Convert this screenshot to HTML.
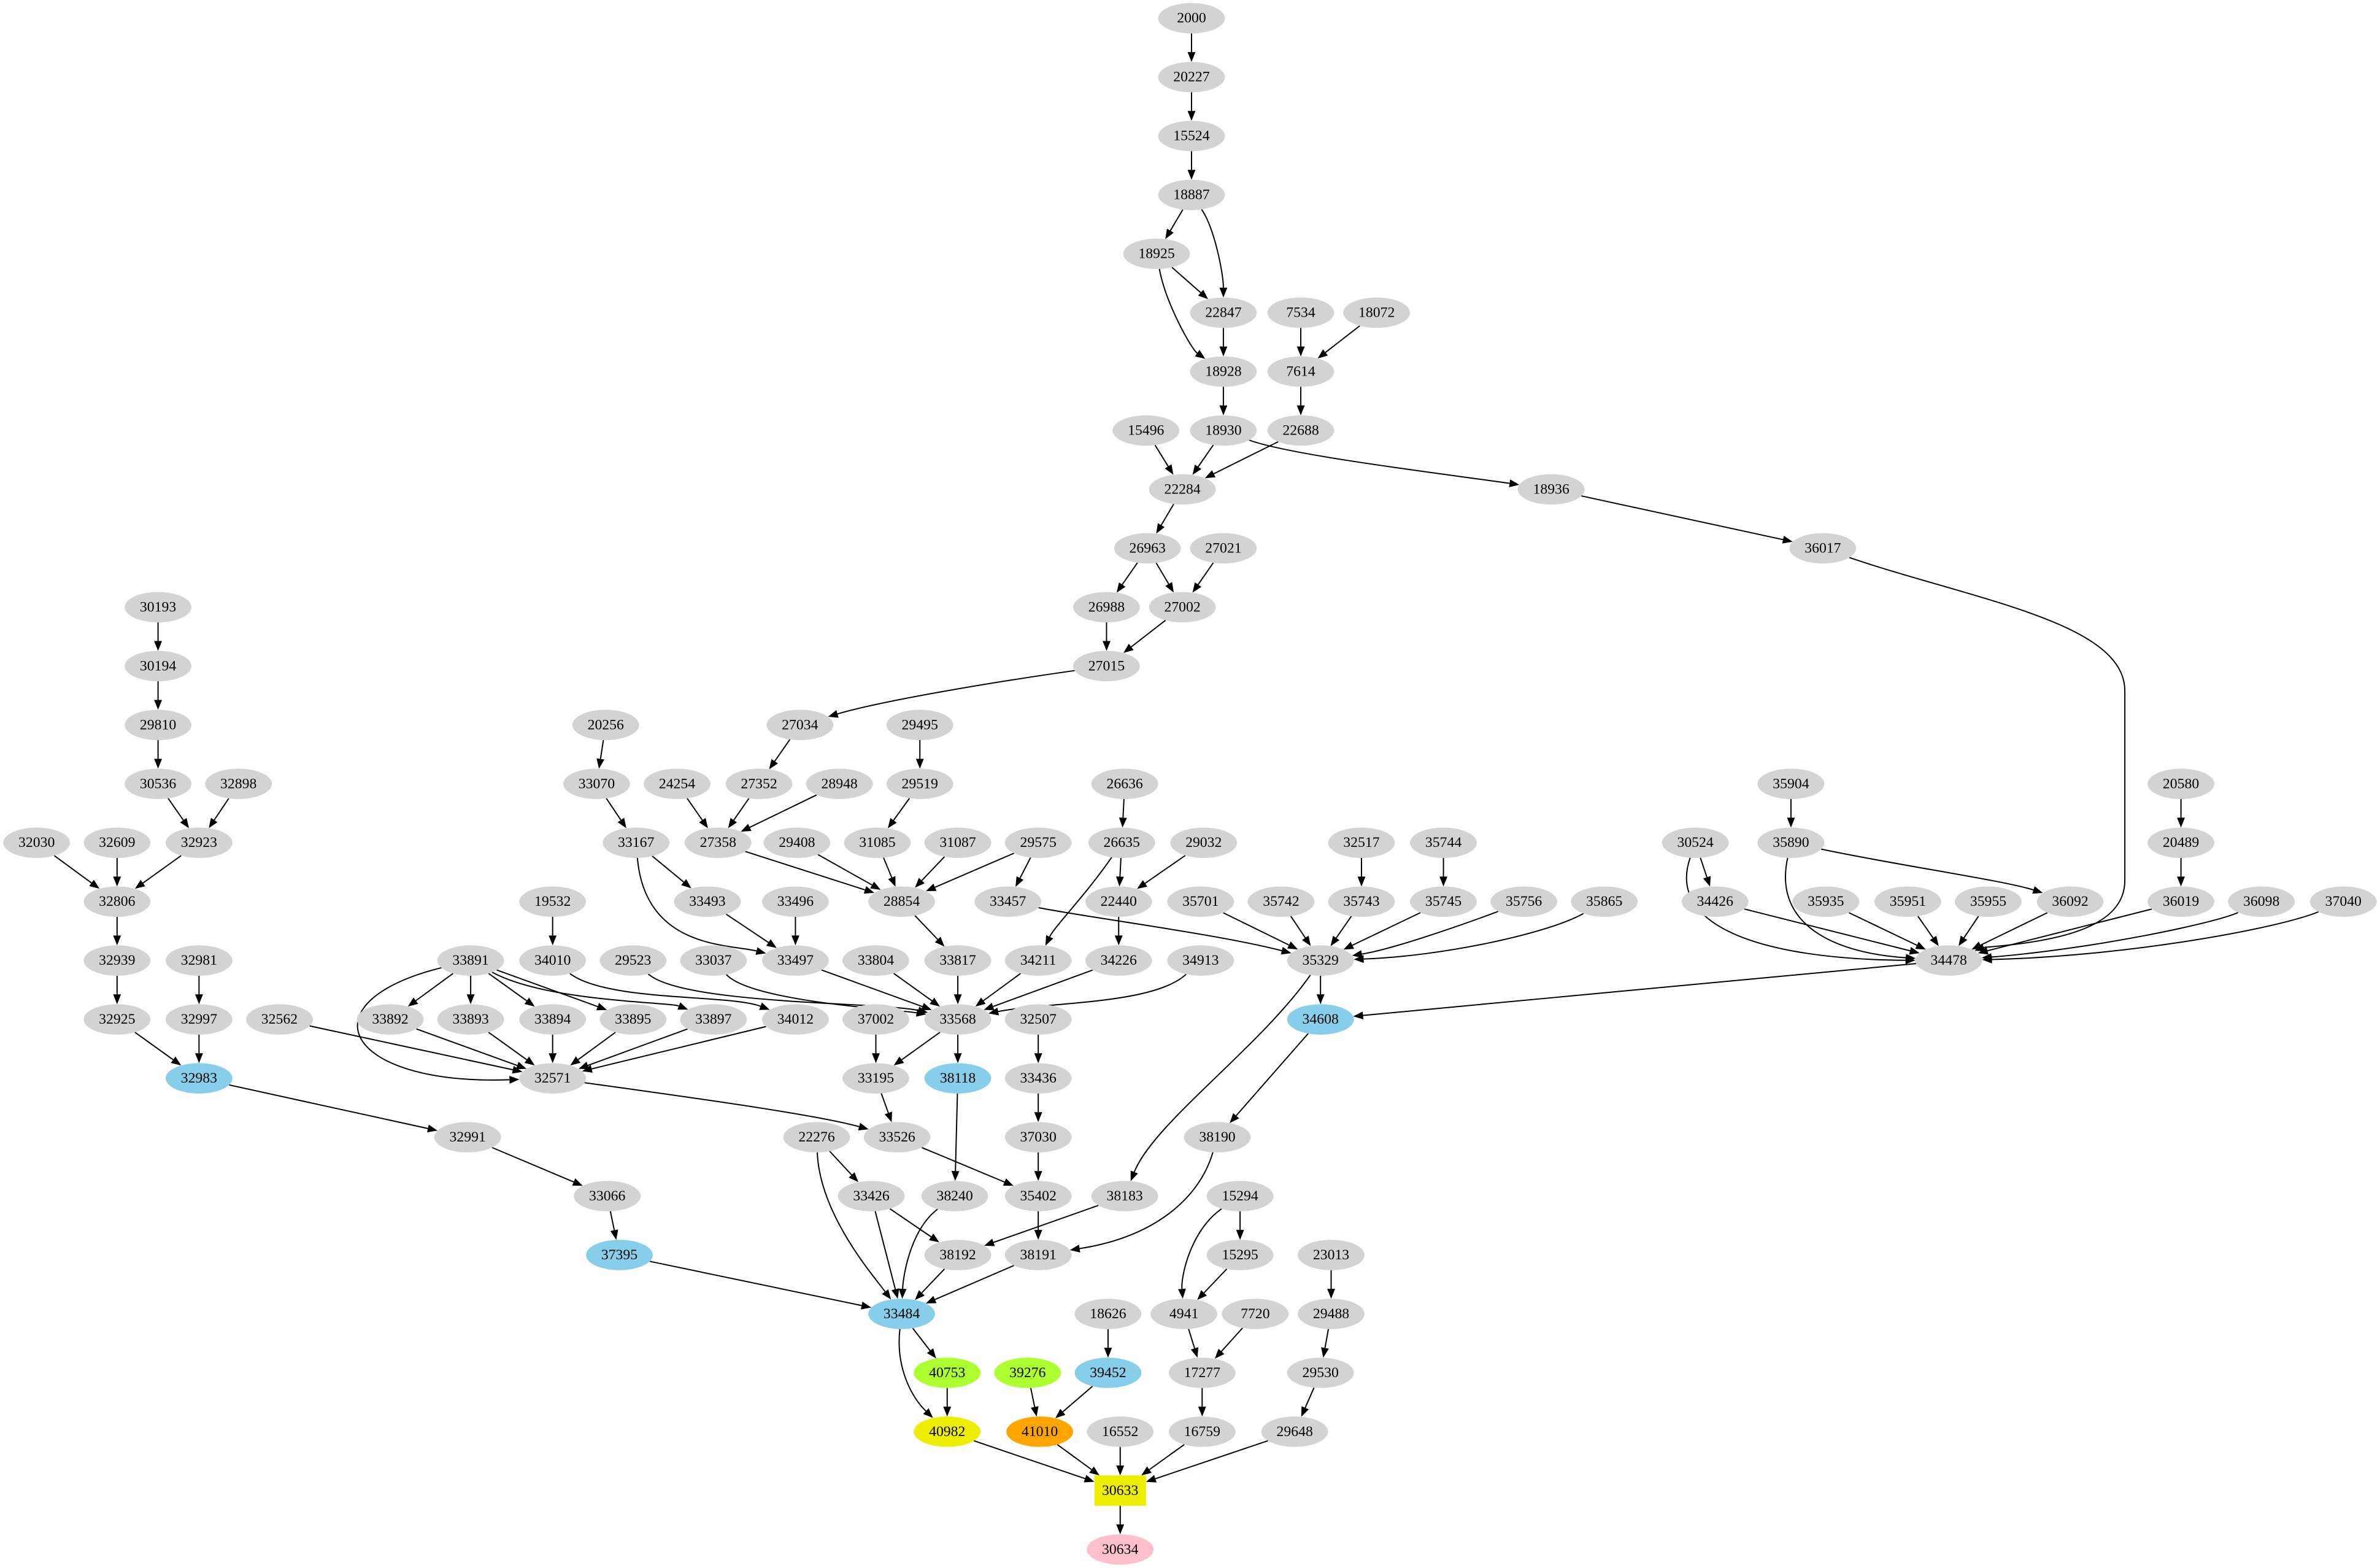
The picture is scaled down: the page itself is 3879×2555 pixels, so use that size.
<!DOCTYPE html>
<html><head><meta charset="utf-8"><style>
html,body{margin:0;padding:0;background:#fff;width:3879px;height:2555px;overflow:hidden}
svg{display:block}
text{font-family:"Liberation Serif",serif;font-size:9.6px;text-anchor:middle;dominant-baseline:central;fill:#000}
</style></head><body>
<svg id="g" width="3879" height="2555" viewBox="0 0 1568 1033" xmlns="http://www.w3.org/2000/svg"></svg>
<script>
var R=[12,50.8,89.6,128.4,167.2,206,244.8,283.6,322.4,361.2,400,438.8,477.6,516.4,555.2,594,632.8,671.6,710.4,749.2,788,826.8,865.6,904.4,943.2,982,1020.8];
var N={};
function n(id,x,r,c,sh){N[id]={x:x,y:R[r],c:c||'#d3d3d3',sh:sh||'e'};}
n('2000',785,0);n('20227',785,1);n('15524',785,2);n('18887',785,3);n('18925',762,4);
n('22847',806,5);n('7534',857,5);n('18072',907,5);
n('18928',806,6);n('7614',857,6);
n('15496',755,7);n('18930',806,7);n('22688',857,7);
n('22284',779,8);n('18936',1022,8);
n('26963',756,9);n('27021',806,9);n('36017',1201,9);
n('30193',104,10);n('26988',729,10);n('27002',779,10);
n('30194',104,11);n('27015',729,11);
n('29810',104,12);n('20256',399,12);n('27034',527,12);n('29495',606,12);
n('30536',104,13);n('32898',157,13);n('33070',393,13);n('24254',446,13);n('27352',500,13);n('28948',553,13);n('29519',606,13);n('26636',741,13);n('35904',1180,13);n('20580',1437,13);
n('32030',24,14);n('32609',77,14);n('32923',131,14);n('33167',419,14);n('27358',473,14);n('29408',525,14);n('31085',578,14);n('31087',631,14);n('29575',684,14);n('26635',739,14);n('29032',793,14);n('32517',897,14);n('35744',951,14);n('30524',1117,14);n('35890',1180,14);n('20489',1437,14);
n('32806',77,15);n('19532',364,15);n('33493',466,15);n('33496',524,15);n('28854',594,15);n('33457',664,15);n('22440',737,15);n('35701',791,15);n('35742',844,15);n('35743',897,15);n('35745',951,15);n('35756',1004,15);n('35865',1057,15);n('34426',1130,15);n('35935',1203,15);n('35951',1257,15);n('35955',1310,15);n('36092',1364,15);n('36019',1437,15);n('36098',1490,15);n('37040',1544,15);
n('32939',77,16);n('32981',131,16);n('33891',310,16);n('34010',364,16);n('29523',417,16);n('33037',470,16);n('33497',524,16);n('33804',577,16);n('33817',631,16);n('34211',684,16);n('34226',737,16);n('34913',791,16);n('35329',870,16);n('34478',1284,16);
n('32925',77,17);n('32997',131,17);n('32562',184,17);n('33892',257,17);n('33893',310,17);n('33894',364,17);n('33895',417,17);n('33897',470,17);n('34012',524,17);n('37002',577,17);n('33568',631,17);n('32507',684,17);n('34608',870,17,'#87ceeb');
n('32983',131,18,'#87ceeb');n('32571',364,18);n('33195',577,18);n('38118',631,18,'#87ceeb');n('33436',684,18);
n('32991',308,19);n('22276',538,19);n('33526',591,19);n('37030',684,19);n('38190',802,19);
n('33066',400,20);n('33426',574,20);n('38240',629,20);n('35402',684,20);n('38183',741,20);n('15294',817,20);
n('37395',408,21,'#87ceeb');n('38192',631,21);n('38191',684,21);n('15295',817,21);n('23013',877,21);
n('33484',594,22,'#87ceeb');n('18626',730,22);n('4941',780,22);n('7720',827,22);n('29488',877,22);
n('40753',624,23,'#adff2f');n('39276',677,23,'#adff2f');n('39452',730,23,'#87ceeb');n('17277',792,23);n('29530',870,23);
n('40982',624,24,'#eeee00');n('41010',685,24,'#ffa500');n('16552',738,24);n('16759',792,24);n('29648',853,24);
n('30633',738,25,'#eeee00','b');n('30634',738,26,'#ffc0cb');
var E=[
['2000','20227'],['20227','15524'],['15524','18887'],['18887','18925'],['18887','22847',[800,150],[806,180]],['18925','22847'],['18925','18928',[768,200],[785,230]],['22847','18928'],
['7534','7614'],['18072','7614'],['18928','18930'],['7614','22688'],['15496','22284'],['18930','22284'],['22688','22284'],
['18930','18936',[850,300],[950,312]],['18936','36017'],
['22284','26963'],['26963','26988'],['26963','27002'],['27021','27002'],['26988','27015'],['27002','27015'],
['27015','27034',[650,450],[580,462]],['27034','27352'],['27352','27358'],['24254','27358'],['28948','27358'],['27358','28854'],
['29495','29519'],['29519','31085'],['31085','28854'],['29408','28854'],['31087','28854'],['29575','28854'],['29575','33457'],
['33457','35329',[720,605],[800,615]],['28854','33817'],['33817','33568'],['26636','26635'],['26635','22440'],['29032','22440'],
['26635','34211',[715,590],[695,610]],['34211','33568'],['22440','34226'],['34226','33568'],['34913','33568',[760,662],[690,660]],
['32517','35743'],['35744','35745'],['35701','35329'],['35742','35329'],['35743','35329'],['35745','35329'],['35756','35329',[975,605],[920,625]],['35865','35329',[1020,615],[950,630]],
['35329','34608'],['35329','38183',[830,690],[760,740]],['34478','34608'],['34608','38190'],['38190','38191',[790,790],[760,815]],['38183','38192'],
['35904','35890'],['30524','34426'],['30524','34478',[1098,610],[1160,632]],['35890','34478',[1168,610],[1210,628]],['35890','36092',[1250,570],[1320,580]],
['34426','34478'],['35935','34478'],['35951','34478'],['35955','34478'],['36092','34478'],['36019','34478'],['36098','34478',[1460,608],[1380,625]],['37040','34478',[1500,612],[1400,630]],
['20580','20489'],['20489','36019'],
['30193','30194'],['30194','29810'],['29810','30536'],['30536','32923'],['32898','32923'],['32030','32806'],['32609','32806'],['32923','32806'],
['32806','32939'],['32939','32925'],['32925','32983'],['32981','32997'],['32997','32983'],['32983','32991'],['32991','33066'],['33066','37395'],
['37395','33484'],
['20256','33070'],['33070','33167'],['33167','33493'],['33167','33497',[425,625],[480,622]],['33493','33497'],['33496','33497'],['33497','33568'],
['29523','33568',[450,662],[580,660]],['33037','33568',[495,660],[590,665]],['33804','33568'],
['19532','34010'],['34010','34012',[400,660],[480,655]],
['33891','33892'],['33891','33893'],['33891','33894'],['33891','33895'],['33891','33897',[360,660],[440,660]],['33891','32571',[200,660],[225,715]],
['33892','32571'],['33893','32571'],['33894','32571'],['33895','32571'],['33897','32571'],['34012','32571'],['32562','32571'],
['32571','33526',[470,725],[540,735]],['33568','33195'],['33568','38118'],['37002','33195'],['33195','33526'],['33526','35402'],
['32507','33436'],['33436','37030'],['37030','35402'],['35402','38191'],['38118','38240'],['38240','33484',[600,810],[595,840]],
['22276','33426'],['22276','33484',[540,800],[575,840]],['33426','33484'],['33426','38192'],['38192','33484'],['38191','33484'],
['33484','40753'],['33484','40982',[590,900],[600,920]],['40753','40982'],['39276','41010'],['18626','39452'],['39452','41010'],
['15294','15295'],['15294','4941',[785,810],[778,840]],['15295','4941'],['4941','17277'],['7720','17277'],['17277','16759'],['16759','30633'],
['23013','29488'],['29488','29530'],['29530','29648'],['29648','30633'],['40982','30633'],['41010','30633'],['16552','30633'],['30633','30634']
];
var s='';
function clip(nd,dx,dy){var L=Math.hypot(dx,dy);dx/=L;dy/=L;var r;
 if(nd.sh=='b'){r=Math.min(17/Math.abs(dx||1e-9),10/Math.abs(dy||1e-9));}
 else r=1/Math.sqrt((dx/22)*(dx/22)+(dy/10)*(dy/10));
 return [nd.x+dx*r,nd.y+dy*r];}
function arrow(p3,dx,dy){var L=Math.hypot(dx,dy);dx/=L;dy/=L;var al=6.5,aw=2.6;
 var bx=p3[0]-dx*al,by=p3[1]-dy*al;
 s+='<polygon points="'+p3[0]+','+p3[1]+' '+(bx-dy*aw)+','+(by+dx*aw)+' '+(bx+dy*aw)+','+(by-dx*aw)+'" fill="#000"/>';
 return [bx,by];}
E.forEach(function(e){var a=N[e[0]],b=N[e[1]];
 var c1=e[2]||[b.x,b.y],c2=e[3]||[a.x,a.y];
 var p0=clip(a,c1[0]-a.x,c1[1]-a.y);var p3=clip(b,c2[0]-b.x,c2[1]-b.y);
 var dx=p3[0]-c2[0],dy=p3[1]-c2[1];if(!e[3]){dx=p3[0]-p0[0];dy=p3[1]-p0[1];}
 var bb=arrow(p3,dx,dy);
 if(e[2])s+='<path d="M'+p0[0]+','+p0[1]+' C'+e[2][0]+','+e[2][1]+' '+e[3][0]+','+e[3][1]+' '+bb[0]+','+bb[1]+'" fill="none" stroke="#000" stroke-width="0.8"/>';
 else s+='<line x1="'+p0[0]+'" y1="'+p0[1]+'" x2="'+bb[0]+'" y2="'+bb[1]+'" stroke="#000" stroke-width="0.8"/>';
});
/* 36017 -> 34478 custom */
(function(){var a=N['36017'],b=N['34478'];
 var p0=clip(a,1,0.35);var p3=clip(b,1.6,-0.6);
 var bb=arrow(p3,-1.6,0.6);
 s+='<path d="M'+p0[0]+','+p0[1]+' C1300,395 1400,410 1400,455 L1400,580 C1400,610 1360,620 '+bb[0]+','+bb[1]+'" fill="none" stroke="#000" stroke-width="0.8"/>';
})();
for(var k in N){var d=N[k];
 if(d.sh=='b')s+='<rect x="'+(d.x-17)+'" y="'+(d.y-10)+'" width="34" height="20" fill="'+d.c+'"/>';
 else s+='<ellipse cx="'+d.x+'" cy="'+d.y+'" rx="22" ry="10" fill="'+d.c+'"/>';
 s+='<text x="'+d.x+'" y="'+d.y+'">'+k+'</text>';}
document.getElementById('g').innerHTML=s;
</script>
</body></html>
